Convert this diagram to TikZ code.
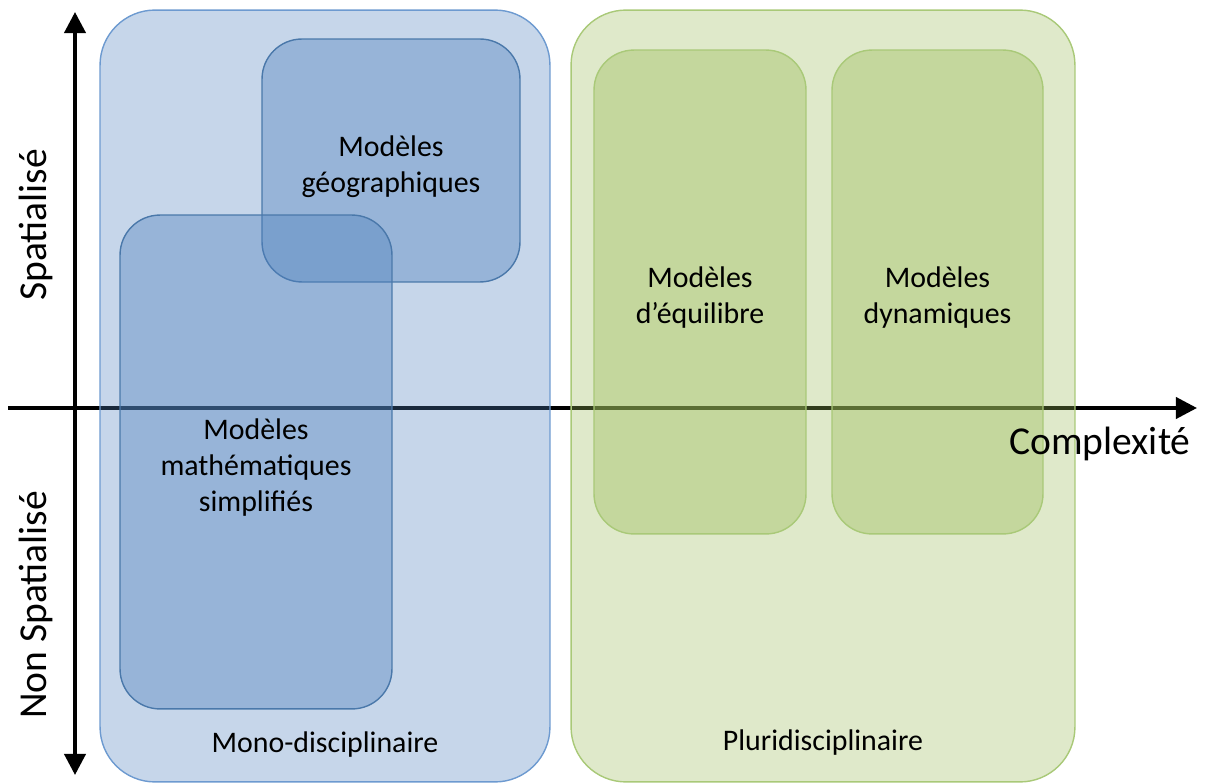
\documentclass[tikz,border=0pt]{standalone}
\usepackage{fontspec}
\setmainfont{Carlito}
\usepackage{tikz}
\usetikzlibrary{arrows.meta,positioning}

\definecolor{monofill}{HTML}{4F81BD}
\definecolor{monoline}{HTML}{6D9AD0}
\definecolor{boxline}{HTML}{4A78AA}
\definecolor{plurifill}{HTML}{9BBB59}
\definecolor{pluriline}{HTML}{A9C978}

\begin{document}
\begin{tikzpicture}[x=0.02cm, y=-0.02cm,
    outer/.style={draw, rounded corners=1.1cm, line width=0.8pt, fill opacity=0.32},
    inner/.style={draw, rounded corners=0.8cm, line width=0.8pt, fill opacity=0.4},
    txt/.style={align=center, yshift=-3.4pt, font=\fontsize{17}{20.5}\selectfont},
    tag/.style={font=\fontsize{17}{20.5}\selectfont},
    axlbl/.style={font=\fontsize{22.5}{26}\selectfont},
    axis/.style={line width=2.2pt}
]
\useasboundingbox (0,0) rectangle (1207,783);

% axes, under the boxes
\coordinate (vtop) at (75,12);
\coordinate (vbot) at (75,775);
\coordinate (hleft) at (8,408);
\coordinate (hright) at (1197,408);
\draw[axis, {Triangle[length=12pt,width=12pt]}-{Triangle[length=12pt,width=12pt]}] (vbot) -- (vtop);
\draw[axis, -{Triangle[length=12pt,width=12pt]}] (hleft) -- (hright);

% groups
\node[outer, draw=monoline, fill=monofill, minimum width=9cm, minimum height=15.44cm] (mono) at (325,396) {};
\node[outer, draw=pluriline, fill=plurifill, minimum width=10.08cm, minimum height=15.44cm] (pluri) at (823,396) {};

% models
\node[inner, draw=boxline, fill=monofill, minimum width=5.16cm, minimum height=4.86cm] (geo) at (391,160.5) {};
\node[inner, draw=boxline, fill=monofill, minimum width=5.44cm, minimum height=9.88cm] (math) at (256,462) {};
\node[inner, draw=pluriline, fill=plurifill, minimum width=4.24cm, minimum height=9.68cm] (equi) at (700,292) {};
\node[inner, draw=pluriline, fill=plurifill, minimum width=4.22cm, minimum height=9.68cm] (dyn) at (937.5,292) {};

\node[txt] (geotxt) at (geo) {Modèles\\géographiques};
\node[txt] (mathtxt) at (math) {Modèles\\mathématiques\\simplifiés};
\node[txt] (equitxt) at (equi) {Modèles\\d’équilibre};
\node[txt] (dyntxt) at (dyn) {Modèles\\dynamiques};

\node[tag, above=0.38cm of mono.south] (monolbl) {Mono-disciplinaire};
\node[tag, above=0.42cm of pluri.south] (plurilbl) {Pluridisciplinaire};

% axis labels
\node[axlbl] (cplx) at (1100,444) {Complexité};
\node[axlbl, rotate=90] (spat) at (36,225) {Spatialisé};
\node[axlbl, rotate=90] (nspat) at (36,605) {Non Spatialisé};
\end{tikzpicture}
\end{document}
